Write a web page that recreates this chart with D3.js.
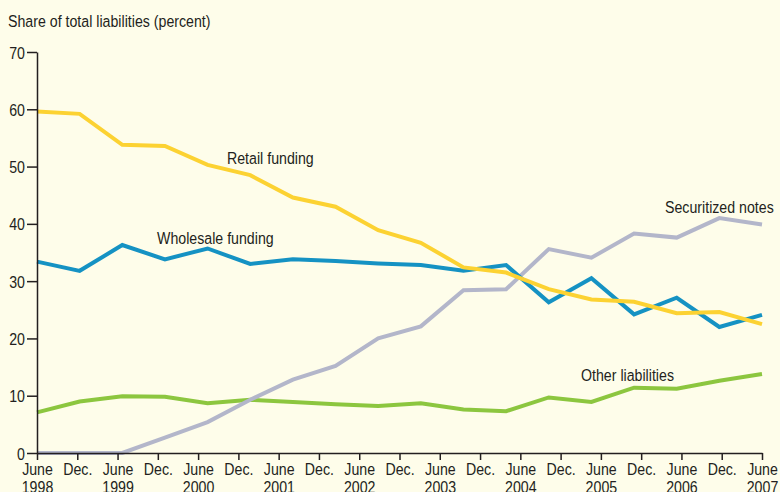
<!DOCTYPE html>
<html lang="en">
<head>
<meta charset="UTF-8">
<title>Share of total liabilities</title>
<style>
    html, body {
        margin: 0;
        padding: 0;
        background: #fefdea;
    }
    svg text {
        font-family: "Liberation Sans", Arial, sans-serif;
        font-size: 16.5px;
        fill: #231f20;
    }
</style>
</head>
<body>
<svg id="svg" width="780" height="492"></svg>
<script src="https://d3js.org/d3.v7.min.js"></script>
<script>
    // tick labels along the bottom (June / Dec. every half year)
    const tickMonths = ["June", "Dec.", "June", "Dec.", "June", "Dec.", "June", "Dec.", "June", "Dec.",
        "June", "Dec.", "June", "Dec.", "June", "Dec.", "June", "Dec.", "June"];
    const tickYears = ["1998", "", "1999", "", "2000", "", "2001", "", "2002", "",
        "2003", "", "2004", "", "2005", "", "2006", "", "2007"];
    const yTicks = [0, 10, 20, 30, 40, 50, 60, 70];

    // 18 observations spread evenly across the axis
    const retail = [59.6, 59.2, 53.8, 53.6, 50.3, 48.5, 44.6, 43.0, 38.9, 36.7,
        32.4, 31.5, 28.6, 26.8, 26.4, 24.4, 24.6, 22.5];
    const wholesale = [33.4, 31.8, 36.3, 33.8, 35.7, 33.0, 33.8, 33.5, 33.1, 32.8,
        31.8, 32.8, 26.3, 30.5, 24.2, 27.1, 22.0, 24.1];
    const securitized = [0, 0, 0, 2.7, 5.4, 9.3, 12.8, 15.2, 20.0, 22.1,
        28.4, 28.6, 35.6, 34.1, 38.3, 37.6, 41.0, 39.9];
    const other = [7.1, 9.0, 9.9, 9.8, 8.7, 9.3, 8.9, 8.5, 8.2, 8.7,
        7.6, 7.3, 9.7, 8.9, 11.4, 11.2, 12.6, 13.8];

    const series = [
        { name: "Other liabilities", values: other, color: "#8cc63f", lx: 581, ly: 381 },
        { name: "Securitized notes", values: securitized, color: "#b3b6ca", lx: 665, ly: 213 },
        { name: "Wholesale funding", values: wholesale, color: "#1592c3", lx: 157, ly: 244 },
        { name: "Retail funding", values: retail, color: "#fcd232", lx: 227, ly: 164 }
    ];

    // the original type is a condensed face, squeeze the regular one sideways
    const squeeze = 0.86;

    const margin = { top: 52, right: 18, bottom: 39, left: 37 };
    const width = 780 - margin.left - margin.right;
    const height = 492 - margin.top - margin.bottom;

    const svg = d3.select("#svg");

    const xTick = d3.scalePoint()
        .domain(d3.range(tickMonths.length))
        .range([margin.left, margin.left + width]);

    const xData = d3.scalePoint()
        .domain(d3.range(retail.length))
        .range([margin.left, margin.left + width]);

    const yscale = d3.scaleLinear()
        .domain([0, 70])
        .range([margin.top + height, margin.top]);

    // title
    svg.append("text")
        .attr("transform", `translate(8, 27) scale(${squeeze}, 1)`)
        .text("Share of total liabilities (percent)");

    // lines
    const line = d3.line()
        .x((d, i) => xData(i))
        .y(d => yscale(d));

    svg.append("g")
        .selectAll("path")
        .data(series)
        .join("path")
        .attr("d", d => line(d.values))
        .attr("fill", "none")
        .attr("stroke", d => d.color)
        .attr("stroke-width", 4)
        .attr("stroke-linejoin", "miter");

    // y axis
    const leftAxis = d3.axisLeft(yscale)
        .tickValues(yTicks)
        .tickSize(10)
        .tickSizeOuter(0)
        .tickFormat("");

    const gy = svg.append("g")
        .attr("transform", `translate(${margin.left}, 0)`)
        .call(leftAxis);
    gy.select(".domain").attr("stroke", "#231f20").attr("stroke-width", 1.5);
    gy.selectAll(".tick line").attr("stroke", "#231f20").attr("stroke-width", 1.5);
    gy.selectAll(".tick")
        .append("text")
        .attr("transform", `translate(-12, 6) scale(${squeeze}, 1)`)
        .attr("text-anchor", "end")
        .text(d => d);

    // x axis
    const bottomAxis = d3.axisBottom(xTick)
        .tickSize(7)
        .tickSizeOuter(0)
        .tickFormat("");

    const gx = svg.append("g")
        .attr("transform", `translate(0, ${margin.top + height})`)
        .call(bottomAxis);
    gx.select(".domain").attr("stroke", "#231f20").attr("stroke-width", 1.5);
    gx.selectAll(".tick line").attr("stroke", "#231f20").attr("stroke-width", 1.5);

    gx.selectAll(".tick")
        .append("text")
        .attr("transform", `translate(0, 22) scale(${squeeze}, 1)`)
        .attr("text-anchor", "middle")
        .text(i => tickMonths[i]);

    gx.selectAll(".tick")
        .append("text")
        .attr("transform", `translate(0, 40) scale(${squeeze}, 1)`)
        .attr("text-anchor", "middle")
        .text(i => tickYears[i]);

    // series labels
    svg.append("g")
        .selectAll("text")
        .data(series)
        .join("text")
        .attr("transform", d => `translate(${d.lx}, ${d.ly}) scale(${squeeze}, 1)`)
        .text(d => d.name);
</script>
</body>
</html>
